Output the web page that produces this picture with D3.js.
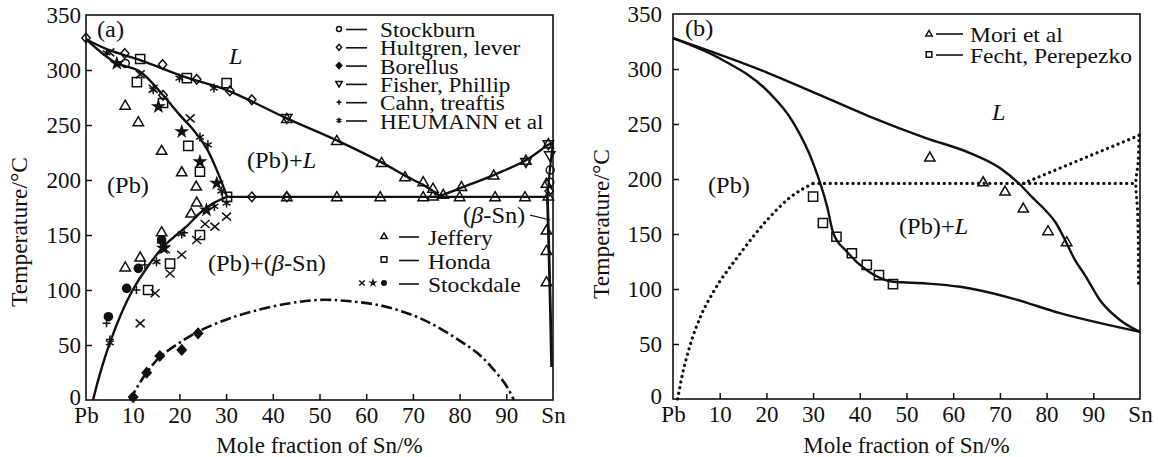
<!DOCTYPE html>
<html><head><meta charset="utf-8">
<script src="https://cdn.jsdelivr.net/npm/d3@7"></script>
<style>
body{margin:0;background:#fff}
</style>
</head><body>
<svg id="chart" width="1158" height="457" font-family="'Liberation Serif','Times New Roman',Times,'DejaVu Serif',serif"></svg>
<script>
// ---------- shared axis data ----------
const xTickValues = [0,10,20,30,40,50,60,70,80,90,100];
const xTickLabels = ["Pb","10","20","30","40","50","60","70","80","90","Sn"];
const yTickValues = [0,50,100,150,200,250,300,350];
const xTitle = "Mole fraction of Sn/%";
const yTitle = "Temperature/°C";

// ---------- panel (a) curves ----------
const liquidusLeftA = [[0,328],[5,318],[11.6,309],[21.6,293],[30,282],[43,256],[53.7,236],[63.3,216],[68.3,204],[72,196],[74.3,190],[75.8,185.5]];
const liquidusRightA = [[75.8,185.5],[80.4,193],[87.3,204.5],[94.2,218],[99,232],[100,234]];
const solidusA = [[0,328],[6.2,307],[11.6,298.5],[16.5,277],[20.1,259],[23,245.5],[25.8,229],[28.3,206],[30.2,184.7]];
const solvusA = [[30.2,184.7],[27.3,179],[24.4,170],[21.6,158],[18.5,147],[16.5,139],[13,120],[10,100],[7.5,78],[5.1,52],[3,24],[1.5,0]];
const eutecticA = [[30.2,184.7],[98.8,184.7]];
const snSolidusA = [[100,234],[99.4,212],[98.8,184.7]];
const snSolvusA = [[98.8,184.7],[99.1,140],[99.4,90],[99.7,30]];
const domeA = [[9.4,0],[11,12],[13,25],[15.8,39],[20,52],[24.4,63],[30,73],[36,81],[43.7,88],[50,91],[56,90],[63,86],[70,77],[75,67],[80,54],[84,42],[87,29],[90,13],[91.6,0]];
const betaLeader = [[95.1,168],[99.4,163.6]];

// ---------- panel (a) data markers ----------
const stockburn = [[8.4,306],[99.4,209],[99.3,198]];
const hultgren = [[0,329],[8.3,315],[16.4,305],[23.7,291.6],[30.8,281],[35.5,273],[16.5,277],[35.5,184.7],[43,184.7],[99.2,190]];
const borellus = [[10.1,2.7],[13,24.8],[15.8,40],[20.5,45.5],[24,60.6]];
const fisher = [[43,256],[94.2,216],[99,232],[99.3,222]];
const cahn = [[4.4,69.7],[10.8,100],[12.6,122.7],[5.1,55],[16,143],[21,152],[17,140]];
const heumann = [[4.4,315.5],[14.4,282],[20,292.7],[27.4,283.6],[24.4,239],[26.1,232],[30.1,179],[5.1,52],[15.1,125.7],[20.5,151],[29,190],[27.5,176]];
const jeffery = [[8.4,268],[11.2,253],[16.2,227],[20.5,207.5],[23.6,194.5],[23.7,180],[22.5,170],[8.4,121],[11.6,130],[16.2,153],
  [43,184.8],[53.7,184.8],[63,184.8],[72.2,184.8],[74.3,185.5],[80,184.8],[87.6,184.8],[94,184.8],[99,185.5],
  [43,256],[53.7,236],[63.3,216],[68.3,203],[72.2,198.5],[74.3,192.6],[76.5,187],[80.4,194],[87.3,204.5],[94.2,218],[99,233],
  [98.6,197],[98.6,154.5],[98.6,136],[98.6,107.5]];
const honda = [[11.6,310],[10.9,289],[16.5,270],[21.6,292.7],[30.1,288],[21.9,231],[24.4,207.5],[30.2,184.7],[24.4,150],[18,124],[13.3,100]];
const stockdaleX = [[5.1,316],[11.6,296],[14.4,283],[22.3,256],[11.6,69.7],[14.8,97],[18,115],[20.5,132],[23.7,145.5],[27.6,157.6],[30.1,166.7],[17,137],[25.5,160]];
const stockdaleStar = [[6.6,306],[15.5,266.7],[20.5,244],[24.4,216.6],[28,197],[25.8,172.7],[16.6,138]];
const stockdaleDot = [[4.8,75.7],[8.7,101.5],[11.2,119.7],[16.2,145.5]];

// ---------- panel (b) curves ----------
const liquidusB = [[0,328],[10,313],[20,297],[30,279],[42,257],[54.3,237],[63.6,223.6],[70,210],[74.3,195],[77,183],[79.7,171.8],[82,160],[83.9,145],[86,127],[88.2,112.7],[91.4,90],[95.7,71.8],[100,61]];
const lowerB = [[0,328],[10.7,308],[20,281],[25.8,251],[30,214.5],[33,175],[34.3,151],[37.2,134],[41.5,117],[47.1,106.6],[54.3,105],[61.5,102],[72.2,92],[82.9,78],[100,61]];
const metaSolvusB = [[1,0],[2,22],[3.6,48],[6,76],[8.6,97],[14,130],[20,162],[25,183],[30,196]];
const metaEutecticB = [[30,196],[99.5,196]];
const metaSnLiquidusB = [[75,196],[100,240]];
const metaSnSolvusB = [[99.8,240],[99.6,215],[99.1,196],[99.5,170],[99.7,104]];

// ---------- panel (b) data markers ----------
const mori = [[55,220],[66.4,197.5],[71.1,189],[75,173.6],[80.3,153],[84.3,143]];
const fecht = [[30,184],[32.1,160],[35,147.5],[38.3,132.5],[41.5,122],[44.1,112.7],[47.1,104.5]];

// ---------- legend labels ----------
const legendTopA = ["Stockburn","Hultgren, lever","Borellus","Fisher, Phillip","Cahn, treaftis","HEUMANN et al"];
const legendBottomA = ["Jeffery","Honda","Stockdale"];
const legendB = ["Mori et al","Fecht, Perepezko"];

// ================== drawing ==================
const svg = d3.select("#chart");
const FONT = 23;

function stext(g, html, px, py, size, sx) {
  return g.append("text").attr("transform", `translate(${px},${py}) scale(${sx||1},1)`)
    .attr("font-size", size).attr("fill", "#111").html(html);
}

function marker(g, type, cx, cy, s) {
  s = s || 1;
  const sw = 1.5;
  const G = g.append("g").attr("transform", `translate(${cx},${cy})`);
  const P = (d, fill) => G.append("path").attr("d", d).attr("fill", fill ? "#111" : "#fff")
      .attr("fill-opacity", fill ? 1 : 0).attr("stroke", "#111").attr("stroke-width", sw);
  if (type === "circle") G.append("circle").attr("r", 4*s).attr("fill","none").attr("stroke","#111").attr("stroke-width",sw);
  else if (type === "dot") G.append("circle").attr("r", 4.8*s).attr("fill","#111");
  else if (type === "diamond") P(`M0,${-4.8*s}L${4.2*s},0L0,${4.8*s}L${-4.2*s},0Z`, false);
  else if (type === "diamondFill") P(`M0,${-5*s}L${4.5*s},0L0,${5*s}L${-4.5*s},0Z`, true);
  else if (type === "tri") P(`M0,${-5*s}L${5.2*s},${4*s}L${-5.2*s},${4*s}Z`, false);
  else if (type === "triDown") P(`M0,${5*s}L${5.2*s},${-4*s}L${-5.2*s},${-4*s}Z`, false);
  else if (type === "square") P(`M${-4.6*s},${-4.6*s}h${9.2*s}v${9.2*s}h${-9.2*s}Z`, false);
  else if (type === "plus") P(`M${-4*s},0H${4*s}M0,${-4*s}V${4*s}`, false);
  else if (type === "cross") P(`M${-4.5*s},${-4*s}L${4.5*s},${4*s}M${-4.5*s},${4*s}L${4.5*s},${-4*s}`, false);
  else if (type === "asterisk") {
    const r = 4.5*s, a = r*0.866, b = r*0.5;
    P(`M0,${-r}V${r}M${-a},${-b}L${a},${b}M${-a},${b}L${a},${-b}`, false);
  }
  else if (type === "star") G.append("path").attr("d", d3.symbol(d3.symbolStar, 70*s*s)()).attr("fill","#111");
}

function panel(opts) {
  const {left, top, right, bottom, ypad} = opts;
  const x = d3.scaleLinear().domain([0,100]).range([left, right]);
  const y = d3.scaleLinear().domain([0,350]).range([bottom, top]);
  const g = svg.append("g");

  const xa = g.append("g").attr("transform", `translate(0,${bottom})`)
    .call(d3.axisBottom(x).tickValues(xTickValues).tickSize(-6).tickSizeOuter(0).tickPadding(7)
      .tickFormat((d,i) => xTickLabels[i]));
  const ya = g.append("g").attr("transform", `translate(${left},0)`)
    .call(d3.axisLeft(y).tickValues(yTickValues).tickSize(-6).tickSizeOuter(0).tickPadding(ypad));
  [xa, ya].forEach(a => {
    a.attr("font-family", null).attr("font-size", null);
    a.select(".domain").remove();
    a.selectAll("text").attr("font-size", FONT).attr("fill", "#111");
    a.selectAll("line").attr("stroke", "#111").attr("stroke-width", 1.5);
  });
  xa.selectAll(".tick line").filter(d => d === 0 || d === 100).remove();
  ya.selectAll(".tick line").filter(d => d === 0 || d === 350).remove();
  ya.selectAll(".tick text").filter(d => d === 0).attr("dy", "0.2em");

  g.append("rect").attr("x", left).attr("y", top).attr("width", right-left).attr("height", bottom-top)
    .attr("fill","none").attr("stroke","#111").attr("stroke-width",1.6);

  g.append("text").attr("x", (left+right)/2).attr("y", 453).attr("text-anchor","middle")
    .attr("font-size", FONT).attr("fill","#111").text(xTitle);
  g.append("text").attr("transform", `translate(${opts.ytx},${opts.yty}) rotate(-90)`)
    .attr("text-anchor","middle").attr("font-size", 23.5).attr("fill","#111").text(yTitle);

  const line = (curve) => d3.line().x(d => x(d[0])).y(d => y(d[1])).curve(curve || d3.curveCatmullRom.alpha(0.5));
  const path = (data, style) => {
    const p = g.append("path").attr("d", line(style.curve)(data)).attr("fill","none")
      .attr("stroke","#111").attr("stroke-width", style.w || 2.4).attr("stroke-linejoin","round");
    if (style.dash) p.attr("stroke-dasharray", style.dash);
    if (style.cap) p.attr("stroke-linecap", style.cap);
    return p;
  };
  const pts = (data, type, s) => data.forEach(d => marker(g, type, x(d[0]), y(d[1]), s));
  const label = (t, px, py) => stext(g, t, px, py, FONT, 1.06);
  return {x, y, g, path, pts, label};
}

// ---------- panel (a) ----------
const A = panel({left:86, top:15, right:553, bottom:400, ypad:5, ytx:27, yty:232});
A.path(liquidusLeftA, {});
A.path(liquidusRightA, {});
A.path(solidusA, {});
A.path(solvusA, {});
A.path(eutecticA, {curve: d3.curveLinear});
A.path(snSolidusA, {w:2.2});
A.path(snSolvusA, {w:2.8});
A.path(domeA, {dash:"11,3.5,2.5,3.5", w:2.6});
A.path(betaLeader, {curve: d3.curveLinear, w:1.2});

A.pts(borellus, "diamondFill");
A.pts(stockdaleDot, "dot");
A.pts(stockdaleStar, "star");
A.pts(stockdaleX, "cross");
A.pts(cahn, "plus");
A.pts(heumann, "asterisk");
A.pts(jeffery, "tri");
A.pts(fisher, "triDown");
A.pts(honda, "square");
A.pts(hultgren, "diamond");
A.pts(stockburn, "circle");

A.label("(a)", 97, 37);
A.label('<tspan font-style="italic">L</tspan>', 229, 64);
A.label("(Pb)", 107, 193);
A.label('(Pb)+<tspan font-style="italic">L</tspan>', 247, 168);
A.label('(Pb)+(<tspan font-style="italic">β</tspan>-Sn)', 208, 271);
A.label('(<tspan font-style="italic">β</tspan>-Sn)', 463, 223);

// top legend (a)
const topTypes = ["circle","diamond","diamondFill","triDown","plus","asterisk"];
legendTopA.forEach((t, i) => {
  const by = 37 + i*18.3;
  marker(A.g, topTypes[i], 339, by - 8, 0.62);
  A.g.append("line").attr("x1",346).attr("x2",367).attr("y1",by-7.5).attr("y2",by-7.5).attr("stroke","#111").attr("stroke-width",1.6);
  stext(A.g, t, 380, by, 20, 1.16);
});
// bottom legend (a)
const bottomTypes = [["tri"],["square"],["cross","star","dot"]];
legendBottomA.forEach((t, i) => {
  const by = 245 + i*23.5;
  const types = bottomTypes[i];
  types.forEach((ty, k) => marker(A.g, ty, 384 - (types.length-1-k)*11, by - 9, 0.62));
  A.g.append("line").attr("x1",399).attr("x2",419).attr("y1",by-8).attr("y2",by-8).attr("stroke","#111").attr("stroke-width",1.6);
  stext(A.g, t, 428, by, 22, 1.07);
});

// ---------- panel (b) ----------
const B = panel({left:673, top:14, right:1140, bottom:399, ypad:11, ytx:609, yty:224});
B.path(liquidusB, {curve: d3.curveMonotoneX});
B.path(lowerB, {curve: d3.curveMonotoneX});
const dotStyle = {dash:"0.1,5.6", cap:"round", w:3.2};
B.path(metaSolvusB, Object.assign({}, dotStyle, {curve: d3.curveMonotoneX}));
B.path(metaEutecticB, Object.assign({}, dotStyle, {curve:d3.curveLinear}));
B.path(metaSnLiquidusB, Object.assign({}, dotStyle, {curve:d3.curveLinear}));
B.path(metaSnSolvusB, dotStyle);
B.pts(mori, "tri");
B.pts(fecht, "square");

B.label("(b)", 685, 36);
B.label('<tspan font-style="italic">L</tspan>', 992, 120);
B.label("(Pb)", 708, 193);
B.label('(Pb)+<tspan font-style="italic">L</tspan>', 899, 234);

const bTypes = ["tri","square"];
legendB.forEach((t, i) => {
  const by = 42 + i*21;
  marker(B.g, bTypes[i], 929, by - 8.5, 0.62);
  B.g.append("line").attr("x1",936).attr("x2",963).attr("y1",by-8).attr("y2",by-8).attr("stroke","#111").attr("stroke-width",1.6);
  stext(B.g, t, 970, by, 22, 1.07);
});
</script>
</body></html>
